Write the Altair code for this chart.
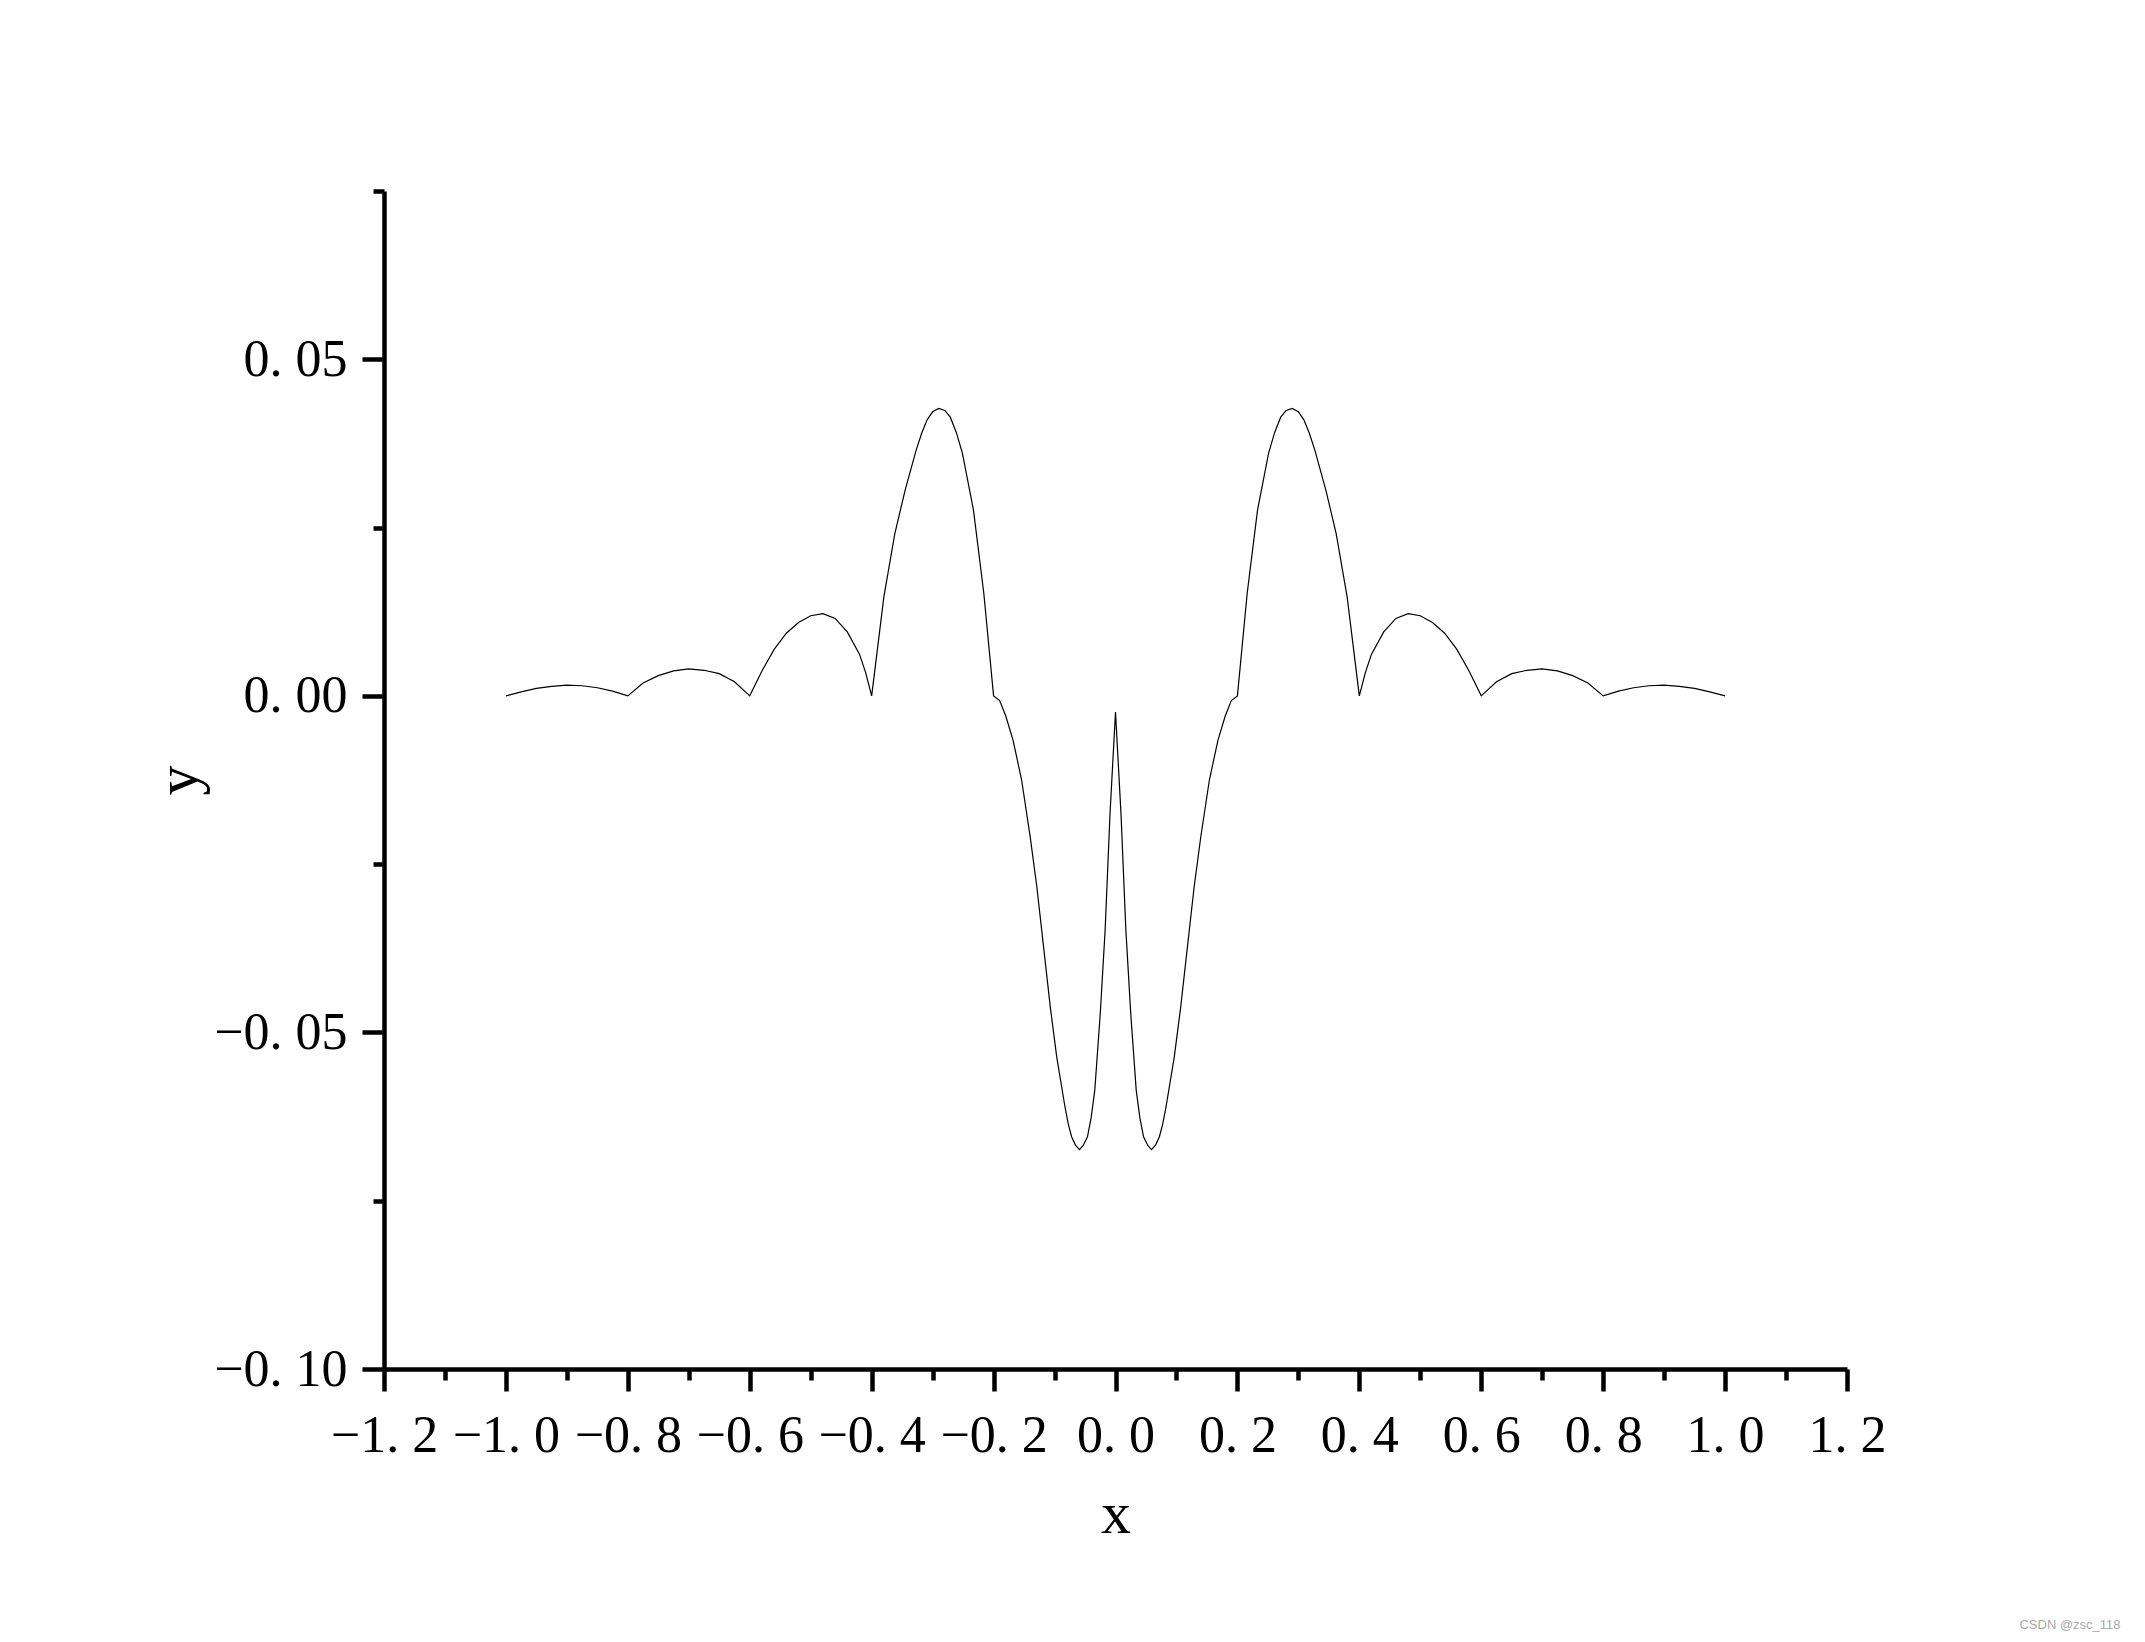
import altair as alt
import pandas as pd

# ---- data ----
x_vals = [
    -1.0, -0.975, -0.95, -0.925, -0.9, -0.875, -0.85, -0.825, -0.8,
    -0.775, -0.75, -0.725, -0.7, -0.675, -0.65, -0.625, -0.6,
    -0.58, -0.56, -0.54, -0.52, -0.5, -0.48, -0.46, -0.44, -0.42, -0.41, -0.4,
    -0.38, -0.362, -0.345, -0.327, -0.318, -0.309, -0.30, -0.29, -0.28, -0.271, -0.261,
    -0.251, -0.233, -0.216, -0.2,
    -0.19, -0.18, -0.168, -0.154, -0.140, -0.129, -0.118, -0.107, -0.0965, -0.083,
    -0.0775, -0.072, -0.066, -0.059, -0.053, -0.046, -0.040, -0.034, -0.025, -0.017, -0.009, 0.0,
    0.009, 0.017, 0.025, 0.034, 0.040, 0.046, 0.053, 0.059, 0.066, 0.072, 0.0775,
    0.083, 0.0965, 0.107, 0.118, 0.129, 0.140, 0.154, 0.168, 0.18, 0.19, 0.2,
    0.216, 0.233, 0.251, 0.261, 0.271, 0.28, 0.29, 0.30, 0.309, 0.318, 0.327, 0.345, 0.362, 0.38, 0.4,
    0.41, 0.42, 0.44, 0.46, 0.48, 0.5, 0.52, 0.54, 0.56, 0.58, 0.6,
    0.625, 0.65, 0.675, 0.7, 0.725, 0.75, 0.775, 0.8,
    0.825, 0.85, 0.875, 0.9, 0.925, 0.95, 0.975, 1.0,
]
y_vals = [
    0.0, 0.0006, 0.0011, 0.0014, 0.0016, 0.0015, 0.0012, 0.0007, 0.0,
    0.0019, 0.0030, 0.0037, 0.0040, 0.0038, 0.0033, 0.0021, 0.0,
    0.0037, 0.0069, 0.0093, 0.0109, 0.0119, 0.0122, 0.0115, 0.0095, 0.0062, 0.0035, 0.0,
    0.0147, 0.0241, 0.0306, 0.0365, 0.0390, 0.0410, 0.0422, 0.0427, 0.0424, 0.0414, 0.0391,
    0.0360, 0.0276, 0.0152, 0.0,
    -0.0007, -0.0030, -0.0066, -0.0125, -0.0209, -0.0284, -0.0373, -0.0462, -0.0536, -0.0610,
    -0.0636, -0.0655, -0.0667, -0.0674, -0.0668, -0.0655, -0.0627, -0.0586, -0.0472, -0.0348, -0.0175, -0.0024,
    -0.0175, -0.0348, -0.0472, -0.0586, -0.0627, -0.0655, -0.0668, -0.0674, -0.0667, -0.0655, -0.0636,
    -0.0610, -0.0536, -0.0462, -0.0373, -0.0284, -0.0209, -0.0125, -0.0066, -0.0030, -0.0007, 0.0,
    0.0152, 0.0276, 0.0360, 0.0391, 0.0414, 0.0424, 0.0427, 0.0422, 0.0410, 0.0390, 0.0365, 0.0306, 0.0241, 0.0147, 0.0,
    0.0035, 0.0062, 0.0095, 0.0115, 0.0122, 0.0119, 0.0109, 0.0093, 0.0069, 0.0037, 0.0,
    0.0021, 0.0033, 0.0038, 0.0040, 0.0037, 0.0030, 0.0019, 0.0,
    0.0007, 0.0012, 0.0015, 0.0016, 0.0014, 0.0011, 0.0006, 0.0,
]

x_ticks = [-1.2, -1.1, -1.0, -0.9, -0.8, -0.7, -0.6, -0.5, -0.4, -0.3, -0.2, -0.1,
           0.0, 0.1, 0.2, 0.3, 0.4, 0.5, 0.6, 0.7, 0.8, 0.9, 1.0, 1.1, 1.2]
y_ticks = [-0.1, -0.075, -0.05, -0.025, 0.0, 0.025, 0.05, 0.075]
x_domain = [-1.2, 1.2]
y_domain = [-0.1, 0.075]
watermark = ["CSDN @zsc_118"]

FONT = "Liberation Serif"

df = pd.DataFrame({"x": x_vals, "y": y_vals})

x_minor = "abs(round(datum.value*10)) % 2 == 1"
y_minor = "abs(round(datum.value*1000)) % 50 == 25"

x_axis = alt.Axis(
    values=x_ticks,
    title="x",
    grid=False,
    labelExpr=f"{x_minor} ? '' : replace(format(datum.value, '.1f'), '.', '. ')",
    tickSize={"condition": {"test": x_minor, "value": 11}, "value": 22},
    tickWidth=4.5,
    tickColor="black",
    domainColor="black",
    domainWidth=4.5,
    labelFont=FONT,
    labelFontSize=52,
    labelColor="black",
    labelPadding=19,
    labelFlush=False,
    labelOverlap=False,
    titleFont=FONT,
    titleFontSize=60,
    titleFontWeight="normal",
    titleColor="black",
    titleY=163,
    titleBaseline="alphabetic",
)

y_axis = alt.Axis(
    values=y_ticks,
    title="y",
    grid=False,
    labelExpr=f"{y_minor} ? '' : replace(format(datum.value, '.2f'), '.', '. ')",
    tickSize={"condition": {"test": y_minor, "value": 11}, "value": 22},
    tickWidth=4.5,
    tickColor="black",
    domainColor="black",
    domainWidth=4.5,
    labelFont=FONT,
    labelFontSize=52,
    labelColor="black",
    labelPadding=15,
    labelFlush=False,
    labelOverlap=False,
    titleFont=FONT,
    titleFontSize=60,
    titleFontWeight="normal",
    titleColor="black",
    titleX=-188,
    titleBaseline="alphabetic",
)

line = alt.Chart(df).mark_line(color="black", strokeWidth=1.2).encode(
    x=alt.X("x:Q", scale=alt.Scale(domain=x_domain, nice=False, zero=False), axis=x_axis),
    y=alt.Y("y:Q", scale=alt.Scale(domain=y_domain, nice=False, zero=False), axis=y_axis),
)

wm = alt.Chart(pd.DataFrame({"t": watermark})).mark_text(
    font="Liberation Sans", fontSize=13, color="#aaaaaa", align="center", baseline="middle"
).encode(x=alt.value(1686), y=alt.value(1434), text="t:N")

chart = alt.layer(line, wm).properties(
    width=1463,
    height=1178,
    autosize=alt.AutoSizeParams(type="none"),
    padding={"left": 376, "top": 183, "right": 290, "bottom": 265},
    background="white",
).configure_view(stroke=None)

chart.save("out.html", embed_options={"renderer": "svg", "actions": False})
